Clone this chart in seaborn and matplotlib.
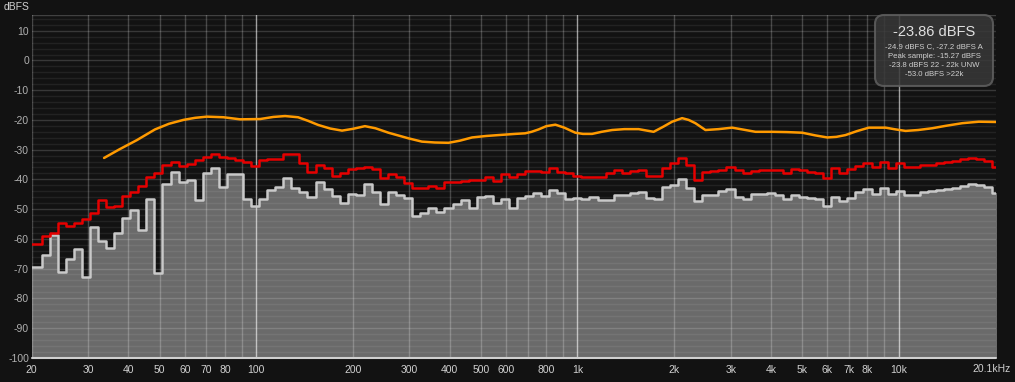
import numpy as np
import pandas as pd
import matplotlib
matplotlib.use("Agg")
import matplotlib.pyplot as plt
from matplotlib.patches import FancyBboxPatch
import seaborn as sns

# ---------------- data ----------------
# 1/12-octave bands, index n relative to 1 kHz (centre = 1000 * 2**(n/12))
BAND_INDEX = list(range(-68, 53))

# grey spectrum (dBFS per band)
GREY_DB = [
    -69.4, -69.4, -65.3, -58.8, -71.2, -66.8, -63.5, -72.8, -56.1, -60.9,
    -63.0, -58.1, -53.0, -50.2, -57.1, -46.7, -71.6, -41.7, -37.6, -40.8,
    -40.2, -47.0, -38.0, -36.2, -42.5, -38.2, -38.2, -46.7, -48.9, -46.7,
    -43.6, -42.7, -39.5, -43.0, -44.2, -46.1, -40.8, -43.3, -45.6, -47.9,
    -44.9, -45.3, -41.7, -44.4, -48.3, -44.2, -45.3, -46.4, -52.4, -51.2,
    -49.8, -50.9, -49.5, -48.3, -47.0, -49.8, -46.1, -45.6, -47.9, -46.6,
    -49.5, -46.4, -45.6, -44.5, -45.5, -43.6, -44.5, -46.7, -46.3, -46.7,
    -46.1, -47.0, -47.0, -45.1, -45.4, -44.7, -44.3, -46.2, -46.7, -42.5,
    -42.0, -39.8, -42.9, -47.3, -45.3, -45.1, -43.8, -43.3, -46.1, -46.6,
    -45.0, -44.9, -44.5, -45.3, -46.7, -45.3, -45.9, -46.4, -46.7, -49.0,
    -45.9, -47.2, -46.3, -44.2, -43.3, -44.9, -42.8, -44.9, -43.8, -45.3,
    -45.4, -44.3, -43.9, -43.6, -43.3, -42.8, -42.3, -41.6, -41.8, -42.5,
    -44.7,
]

# red peak-hold spectrum (dBFS per band)
RED_DB = [
    -61.9, -61.9, -59.1, -58.0, -54.6, -55.7, -54.8, -53.5, -51.4, -47.0,
    -49.2, -48.8, -45.6, -44.2, -42.3, -39.3, -38.0, -35.2, -34.1, -35.5,
    -34.8, -33.5, -32.4, -31.5, -32.6, -32.9, -33.5, -34.1, -35.5, -33.5,
    -33.0, -33.3, -31.5, -31.3, -34.4, -37.4, -35.0, -36.3, -38.7, -37.7,
    -36.6, -36.3, -35.8, -36.6, -39.4, -38.3, -39.1, -41.3, -43.0, -42.8,
    -42.3, -42.8, -40.8, -41.0, -40.6, -40.2, -40.2, -39.1, -40.5, -38.3,
    -39.1, -38.2, -37.1, -37.2, -37.4, -36.3, -37.4, -37.8, -38.9, -39.1,
    -39.3, -39.3, -37.8, -36.9, -37.7, -37.2, -36.9, -38.9, -38.9, -36.3,
    -34.6, -32.7, -35.0, -40.2, -37.4, -37.2, -36.9, -36.0, -36.9, -38.0,
    -37.1, -37.0, -36.9, -36.9, -37.8, -36.5, -36.9, -37.4, -37.7, -39.5,
    -36.1, -37.8, -36.6, -35.5, -34.6, -35.8, -34.1, -36.3, -34.6, -35.8,
    -35.8, -35.2, -35.0, -34.6, -34.1, -33.8, -33.2, -32.9, -33.2, -33.8,
    -35.9,
]

# orange smoothed curve
ORANGE_HZ = [33.6, 37.5, 42.5, 48.4, 53.5, 59.3, 64.5, 70.2, 79.1, 89.1,
             102.9, 113, 123, 135, 145, 156, 170, 185, 200, 218, 235, 258,
             298, 328, 360, 397, 430, 470, 520, 568, 641, 688, 720, 757, 800,
             854, 910, 985, 1040, 1111, 1190, 1282, 1400, 1551, 1727, 1850,
             1972, 2118, 2220, 2330, 2504, 2750, 3032, 3300, 3584, 4040, 4500,
             5010, 5500, 5996, 6400, 6834, 7400, 8078, 9106, 9800, 10512,
             11500, 12727, 14000, 15786, 17778, 20100]
ORANGE_DB = [-32.8, -29.9, -26.8, -23.2, -21.3, -20.0, -19.3, -18.9, -19.1,
             -19.8, -19.7, -19.0, -18.7, -19.1, -20.3, -21.7, -22.9, -23.6,
             -23.0, -22.1, -22.8, -24.3, -26.2, -27.3, -27.6, -27.7, -27.0,
             -25.9, -25.4, -25.1, -24.7, -24.5, -24.0, -23.2, -22.1, -21.6,
             -22.6, -24.3, -24.7, -24.7, -24.0, -23.4, -23.1, -23.1, -24.0,
             -22.3, -20.6, -19.4, -20.0, -21.1, -23.4, -23.1, -22.6, -23.3,
             -24.0, -24.0, -24.1, -24.3, -25.2, -25.9, -25.7, -25.1, -23.8,
             -22.6, -22.6, -23.2, -23.7, -23.4, -22.8, -22.0, -21.1, -20.6,
             -20.7]

X_TICKS = [20, 30, 40, 50, 60, 70, 80, 100, 200, 300, 400, 500, 600, 800,
           1000, 2000, 3000, 4000, 5000, 6000, 7000, 8000, 10000]
X_LABELS = ["20", "30", "40", "50", "60", "70", "80", "100", "200", "300",
            "400", "500", "600", "800", "1k", "2k", "3k", "4k", "5k", "6k",
            "7k", "8k", "10k"]
X_GRID = [30, 40, 50, 60, 70, 80, 90, 200, 300, 400, 500, 600, 700, 800, 900,
          2000, 3000, 4000, 5000, 6000, 7000, 8000, 9000]
X_DECADES = [100, 1000, 10000]
Y_TICKS = list(range(-100, 11, 10))

INFO_TITLE = "-23.86 dBFS"
INFO_LINES = ["-24.9 dBFS C, -27.2 dBFS A",
              "Peak sample: -15.27 dBFS",
              "-23.8 dBFS 22 - 22k UNW",
              "-53.0 dBFS >22k"]

# ---------------- style ----------------
BG = "#121212"
sns.set_theme(style="dark")
plt.rcParams["font.family"] = ["Liberation Sans", "DejaVu Sans"]
plt.rcParams["axes.unicode_minus"] = False

W, H = 1015, 382
fig = plt.figure(figsize=(W / 100, H / 100), dpi=100, facecolor=BG)
L, R, T, B = 31.7, 996.0, 15.0, 357.7
ax = fig.add_axes([L / W, 1 - B / H, (R - L) / W, (B - T) / H])
ax.set_facecolor(BG)

centres = 1000.0 * np.power(2.0, np.array(BAND_INDEX) / 12.0)
edges = np.append(centres * 2 ** (-1 / 24), centres[-1] * 2 ** (1 / 24))

grey_step = np.append(GREY_DB, GREY_DB[-1])
red_step = np.append(RED_DB, RED_DB[-1])

df_grey = pd.DataFrame({"hz": edges, "db": grey_step})
df_red = pd.DataFrame({"hz": edges, "db": red_step})
df_or = pd.DataFrame({"hz": ORANGE_HZ, "db": ORANGE_DB})

ax.set_xscale("log")
ax.set_xlim(20, 20100)
ax.set_ylim(-100, 15.3)

# grey fill
ax.fill_between(df_grey["hz"], df_grey["db"], -100, step="post",
                color="#6a6a6a", lw=0, zorder=1)

# grid (drawn over the fill)
for v in range(-100, 16, 2):
    major = v % 10 == 0
    ax.axhline(v, color="white", alpha=0.16 if major else 0.07, lw=1.0,
               zorder=2)
for f in X_GRID:
    ax.axvline(f, color="white", alpha=0.22, lw=1.0, zorder=2)
for f in X_DECADES:
    ax.axvline(f, color="white", alpha=0.6, lw=1.0, zorder=2)
ax.axvline(20, color="white", alpha=0.22, lw=1.0, zorder=2)
ax.axhline(15.3, color="white", alpha=0.2, lw=1.0, zorder=2)

sns.lineplot(data=df_grey, x="hz", y="db", ax=ax, drawstyle="steps-post",
             sort=False, estimator=None, color="#c9c9c9", lw=1.8, zorder=4)
sns.lineplot(data=df_red, x="hz", y="db", ax=ax, drawstyle="steps-post",
             sort=False, estimator=None, color="#e60000", lw=1.8, zorder=5)
sns.lineplot(data=df_or, x="hz", y="db", ax=ax, sort=False, estimator=None,
             color="#ff9a00", lw=1.8, zorder=6)

ax.axhline(-100, color="#cfcfcf", lw=1.5, zorder=7, clip_on=False)

for s in ax.spines.values():
    s.set_visible(False)

ax.set_xticks(X_TICKS)
ax.set_xticklabels(X_LABELS)
ax.xaxis.set_minor_locator(matplotlib.ticker.NullLocator())
ax.set_yticks(Y_TICKS)
ax.set_yticklabels([str(v) for v in Y_TICKS])
ax.tick_params(axis="x", length=0, pad=5, labelsize=7.5, colors="#d0d0d0")
ax.tick_params(axis="y", length=0, pad=2, labelsize=7.5, colors="#b0b0b0")
ax.grid(False)
ax.set_xlabel("")
ax.set_ylabel("")

fig.text(1011 / W, 1 - 369.5 / H, "20.1kHz", ha="right", va="center",
         fontsize=7.5, color="#d0d0d0")
fig.text(4 / W, 1 - 7 / H, "dBFS", ha="left", va="center", fontsize=7.5,
         color="#d0d0d0")

# info box
box = FancyBboxPatch((875, H - 86), 118, 71,
                     boxstyle="round,pad=0,rounding_size=9",
                     transform=None, facecolor="#383838", alpha=0.85,
                     edgecolor="#606060", lw=1.5, zorder=10)
fig.add_artist(box)
cx = 934 / W
fig.text(cx, 1 - 31.5 / H, INFO_TITLE, ha="center", va="center",
         fontsize=10.5, color="#e0e0e0", zorder=11)
for i, line in enumerate(INFO_LINES):
    fig.text(cx, 1 - (46.5 + 9.5 * i) / H, line, ha="center", va="center",
             fontsize=5.6, color="#d0d0d0", zorder=11)

fig.savefig("out.png", dpi=100, facecolor=BG)
